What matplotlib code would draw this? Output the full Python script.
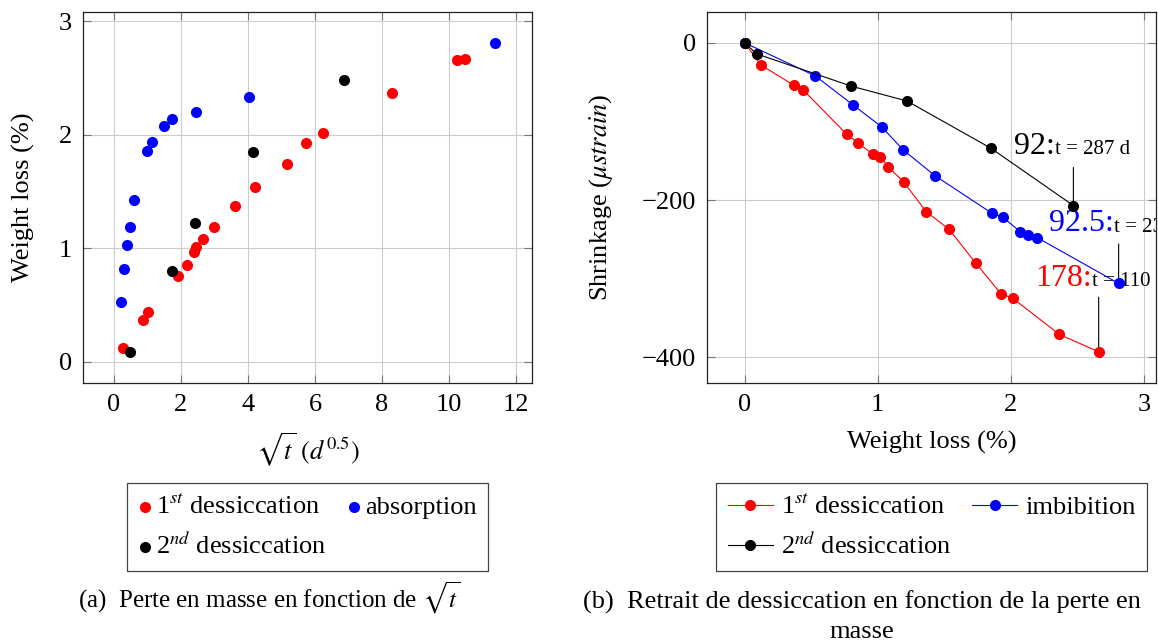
import matplotlib
matplotlib.use('Agg')
import matplotlib.pyplot as plt

plt.rcParams['font.family'] = ['Liberation Serif', 'DejaVu Serif']
plt.rcParams['mathtext.fontset'] = 'stix'

# (a) weight loss vs sqrt(t)
des1_x = [0.26, 0.86, 1.02, 1.91, 2.18, 2.39, 2.45, 2.65, 3.00, 3.62, 4.21, 5.17, 5.74, 6.23, 8.29, 10.23, 10.49]
des1_y = [0.12, 0.37, 0.44, 0.76, 0.85, 0.97, 1.01, 1.08, 1.19, 1.37, 1.54, 1.74, 1.93, 2.02, 2.37, 2.66, 2.67]
abs_x = [0.20, 0.29, 0.38, 0.47, 0.61, 0.99, 1.14, 1.48, 1.74, 2.44, 4.04, 11.36]
abs_y = [0.53, 0.82, 1.03, 1.19, 1.43, 1.86, 1.94, 2.08, 2.14, 2.20, 2.33, 2.81]
des2_x = [0.49, 1.72, 2.43, 4.14, 6.86]
des2_y = [0.09, 0.80, 1.22, 1.85, 2.48]

# (b) shrinkage vs weight loss
shr1_w = [0, 0.12, 0.37, 0.44, 0.765, 0.85, 0.965, 1.02, 1.08, 1.195, 1.365, 1.535, 1.735, 1.925, 2.015, 2.365, 2.66]
shr1_s = [0, -28, -54, -60, -116, -127, -142, -145, -158, -177, -215, -237, -280, -319, -325, -371, -393]
imb_w = [0, 0.53, 0.815, 1.03, 1.19, 1.43, 1.86, 1.94, 2.07, 2.13, 2.20, 2.81]
imb_s = [0, -42, -79, -107, -136, -169, -217, -222, -240, -244, -248, -306]
shr2_w = [0, 0.09, 0.80, 1.22, 1.85, 2.47]
shr2_s = [0, -14, -55, -74, -134, -207]

fs = 19

fig = plt.figure(figsize=(11.58, 6.44), dpi=100)
ax1 = fig.add_axes([0.0719, 0.4058, 0.3875, 0.5756])
ax2 = fig.add_axes([0.6108, 0.4058, 0.3875, 0.5756])


def style(ax):
    ax.grid(True, color='#cccccc', lw=0.8)
    ax.set_axisbelow(True)
    ax.margins(0.1)
    ax.tick_params(direction='in', top=True, right=True, length=6, width=0.8,
                   color='#777777', labelsize=fs, pad=8)
    for s in ax.spines.values():
        s.set_color('#222222')
        s.set_linewidth(0.9)


ax1.scatter(des1_x, des1_y, s=64, color='red', lw=0, label='1$^{st}$ dessiccation', zorder=3)
ax1.scatter(abs_x, abs_y, s=64, color='blue', lw=0, label='absorption', zorder=3)
ax1.scatter(des2_x, des2_y, s=64, color='black', lw=0, label='2$^{nd}$ dessiccation', zorder=3)
style(ax1)
ax1.set_xticks([0, 2, 4, 6, 8, 10, 12])
ax1.set_yticks([0, 1, 2, 3])
ax1.set_xlabel(r'$\sqrt{t}\ (d^{0.5})$', fontsize=fs)
ax1.set_ylabel('Weight loss (%)', fontsize=fs)
ax1.xaxis.set_label_coords(0.5, -0.13)
ax1.yaxis.set_label_coords(-0.108, 0.5)

ax2.plot(shr1_w, shr1_s, color='red', lw=0.8, marker='o', ms=8, mec='none', label='1$^{st}$ dessiccation', zorder=3)
ax2.plot(imb_w, imb_s, color='blue', lw=0.8, marker='o', ms=8, mec='none', label='imbibition', zorder=3)
ax2.plot(shr2_w, shr2_s, color='black', lw=0.8, marker='o', ms=8, mec='none', label='2$^{nd}$ dessiccation', zorder=3)
style(ax2)
ax2.set_xticks([0, 1, 2, 3])
ax2.set_yticks([0, -200, -400])
ax2.set_xlabel('Weight loss (%)', fontsize=fs)
ax2.set_ylabel(r'Shrinkage ($\mu strain$)', fontsize=fs)
ax2.xaxis.set_label_coords(0.5, -0.13)
ax2.yaxis.set_label_coords(-0.205, 0.5)

# pins on the last point of each series
pins = [
    (shr2_w, shr2_s, '92:', 'black', 't = 287 d', (-42.5, 37.4), 27.4),
    (imb_w, imb_s, '92.5:', 'blue', 't = 232 d', (-50.2, 37.4), 28.4),
    (shr1_w, shr1_s, '178:', 'red', 't = 110 d', (-46.0, 47.5), 39.3),
]
for xs, ys, big, col, small, off, plen in pins:
    ax2.annotate('', xy=(xs[-1], ys[-1]), xytext=(0, plen), textcoords='offset points',
                 arrowprops=dict(arrowstyle='-', color='black', lw=0.8, shrinkA=0, shrinkB=0),
                 zorder=2)
    t = ax2.annotate(big, xy=(xs[-1], ys[-1]), xytext=off, textcoords='offset points',
                     fontsize=23, color=col, ha='left', va='baseline', zorder=2,
                     annotation_clip=False)
    t.set_clip_on(True)
    t2 = ax2.annotate(small, xy=(1, 0), xycoords=t, xytext=(0, 5), textcoords='offset points',
                      fontsize=15, color='black', ha='left', va='baseline', zorder=2)
    t2.set_clip_on(True)
    t2.set_clip_box(ax2.bbox)

leg_kw = dict(fontsize=fs, ncol=2, mode='expand', loc='upper left', borderaxespad=0,
              fancybox=False, edgecolor='#444444', framealpha=1, labelspacing=0.45,
              borderpad=0.45, bbox_transform=fig.transFigure)
h1, lb1 = ax1.get_legend_handles_labels()
order = [0, 2, 1]
l1 = ax1.legend([h1[i] for i in order], [lb1[i] for i in order],
                bbox_to_anchor=(0.1094, 0.1175, 0.3123, 0.132), handletextpad=0.15,
                handlelength=0.5, **leg_kw)
h2, lb2 = ax2.get_legend_handles_labels()
l2 = ax2.legend([h2[i] for i in order], [lb2[i] for i in order],
                bbox_to_anchor=(0.6183, 0.1175, 0.3725, 0.132), handletextpad=0.3,
                handlelength=1.7, **leg_kw)
for leg in (l1, l2):
    leg.get_frame().set_linewidth(0.9)

fig.text(269 / 1158, 0.057, r'(a)  Perte en masse en fonction de $\sqrt{t}$', fontsize=18,
         ha='center', va='baseline')
fig.text(862 / 1158, 0.0555, '(b)  Retrait de dessiccation en fonction de la perte en', fontsize=fs,
         ha='center', va='baseline')
fig.text(862 / 1158, 0.009, 'masse', fontsize=fs, ha='center', va='baseline')

fig.savefig('out.png', dpi=100)
